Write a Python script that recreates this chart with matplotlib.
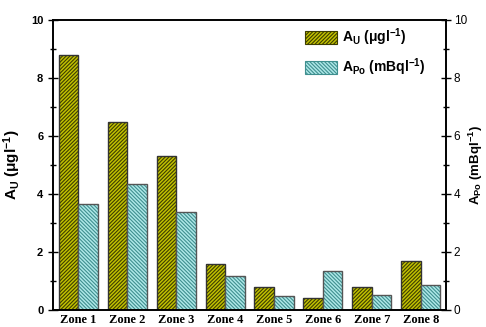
import numpy as np
import matplotlib
matplotlib.use('Agg')
import matplotlib.pyplot as plt
from matplotlib.patches import Patch

plt.rcParams['font.family'] = 'sans-serif'
plt.rcParams['font.sans-serif'] = ['Liberation Sans']
plt.rcParams['mathtext.default'] = 'regular'
plt.rcParams['hatch.linewidth'] = 0.8

zones = ['Zone 1', 'Zone 2', 'Zone 3', 'Zone 4', 'Zone 5', 'Zone 6', 'Zone 7', 'Zone 8']
a_u = [8.79, 6.49, 5.31, 1.59, 0.79, 0.40, 0.79, 1.70]
a_po = [3.64, 4.34, 3.39, 1.16, 0.47, 1.34, 0.52, 0.85]

yellow, yellow_hatch = '#c2c200', '#3d3d00'
blue, blue_hatch = '#aee8e8', '#3f8f8f'
edge = '#333333'
h_u = '/' * 9
h_po = '\\' * 9

fig = plt.figure(figsize=(4.86, 3.27), dpi=100)
ax1 = fig.add_axes([0.109, 0.052, 0.809, 0.887])
ax2 = ax1.twinx()

x = np.arange(1, len(zones) + 1)
w = 0.4

# hatched fills first, then plain outlines on top so hatch colour differs from edge
ax1.bar(x - w / 2, a_u, w, color=yellow, hatch=h_u, edgecolor=yellow_hatch, linewidth=0)
ax1.bar(x - w / 2, a_u, w, fill=False, edgecolor=edge, linewidth=1.0)
ax1.bar(x + w / 2, a_po, w, color=blue, hatch=h_po, edgecolor=blue_hatch, linewidth=0)
ax1.bar(x + w / 2, a_po, w, fill=False, edgecolor='#555555', linewidth=1.0)

ax1.set_xlim(0.48, 8.52)
ax1.set_ylim(0, 10)
ax2.set_ylim(0, 10)
ax1.set_xticks(x)
ax1.set_xticklabels(zones, family='Liberation Serif', fontweight='bold', fontsize=9)
ax1.tick_params(axis='x', length=0, pad=3)

for ax in (ax1, ax2):
    ax.set_yticks(np.arange(0, 11, 2))
    ax.set_yticks(np.arange(1, 10, 2), minor=True)
    ax.tick_params(axis='y', which='major', direction='inout', length=7, width=1)
    ax.tick_params(axis='y', which='minor', direction='inout', length=4, width=1)
    for s in ax.spines.values():
        s.set_linewidth(1.2)

ax1.tick_params(axis='y', labelsize=8)
for lab in ax1.get_yticklabels():
    lab.set_fontweight('bold')
ax2.tick_params(axis='y', labelsize=8.5, pad=2)

ax1.set_ylabel(r'A$_U$ ($\mu$gl$^{-1}$)', fontsize=11, fontweight='bold', labelpad=6)
ax2.set_ylabel(r'A$_{Po}$ (mBql$^{-1}$)', fontsize=9.5, fontweight='bold', labelpad=0)

handles = [Patch(facecolor=yellow, edgecolor=yellow_hatch, hatch=h_u, linewidth=0.8),
           Patch(facecolor=blue, edgecolor=blue_hatch, hatch=h_po, linewidth=0.8)]
ax1.legend(handles, [r'A$_U$ ($\mu$gl$^{-1}$)', r'A$_{Po}$ (mBql$^{-1}$)'],
           loc='upper right', frameon=False, prop={'weight': 'bold', 'size': 10},
           handlelength=2.3, handleheight=1.0, labelspacing=0.6, handletextpad=0.4,
           bbox_to_anchor=(0.98, 1.02))

fig.savefig('out.png', dpi=100)
